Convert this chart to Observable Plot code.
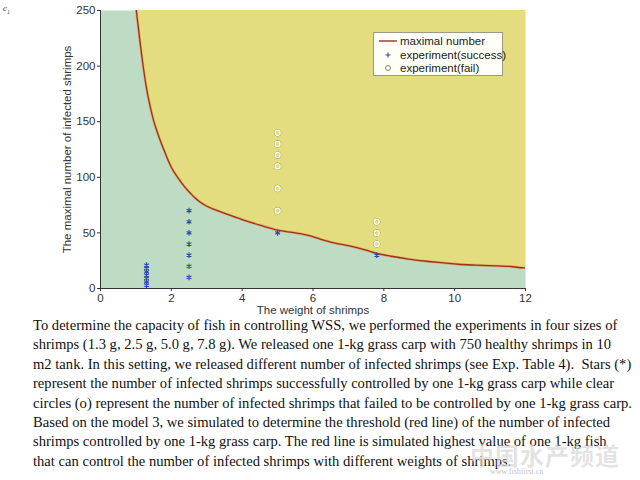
<!DOCTYPE html>
<html>
<head>
<meta charset="utf-8">
<script src="https://cdn.jsdelivr.net/npm/d3@7"></script>
<script src="https://cdn.jsdelivr.net/npm/@observablehq/plot@0.6"></script>
<style>
  html, body { margin: 0; padding: 0; background: #fff; }
  #wrap { position: relative; width: 640px; height: 480px; overflow: hidden; }
  #chart { position: absolute; left: 0; top: 0; }
  #legend { position: absolute; left: 373px; top: 32px; width: 130px; height: 44px;
    background: #fffff8; border: 1px solid #9a9a8a; font-family: "Liberation Sans", Arial, sans-serif;
    font-size: 11.5px; color: #222; box-sizing: border-box; }
  #legend .row { position: absolute; left: 0; height: 14px; line-height: 14px; }
  #legend .row span { position: absolute; left: 26px; white-space: nowrap; }
  #legend svg { position: absolute; left: 3px; top: 0; }
  #tag { position: absolute; left: 3px; top: 3px; font-family: "Liberation Serif", serif; font-style: italic; font-size: 9px; color: #444; }
  #caption { position: absolute; left: 33px; top: 316px; width: 607px; font-family: "Liberation Serif", "Times New Roman", serif;
    font-size: 14.6px; line-height: 19.4px; color: #111; white-space: pre; }
  #wm { position: absolute; left: 470px; top: 437px; font-family: "Noto Sans CJK SC", sans-serif; font-size: 24px; font-weight: bold;
    color: rgba(215,215,215,0.7); letter-spacing: 1px; }
  #wm2 { position: absolute; left: 490px; top: 467px; font-family: "Liberation Serif", serif; font-size: 8px; color: rgba(180,180,180,0.8); }
</style>
</head>
<body>
<div id="wrap">
  <div id="chart"></div>
  <div id="tag">c<sub style="font-size:6px">1</sub></div>
  <div id="legend"></div>
  <div id="caption"></div>
  <div id="wm">中国水产频道</div>
  <div id="wm2">www.fishfirst.cn</div>
</div>
<script>
// ---- data ----
const curveWeight = [1.0, 1.1, 1.2, 1.3, 1.4, 1.5, 1.6, 1.7, 1.8, 1.9, 2.0, 2.2, 2.4, 2.5, 2.65, 2.8, 3.0, 3.3, 3.6, 4.0, 4.5, 5.0, 5.5, 5.9, 6.2, 6.6, 7.0, 7.5, 7.8, 8.2, 8.7, 9.2, 9.7, 10.1, 10.6, 11.2, 11.6, 11.8, 12.0];
const curveMax    = [253, 226, 201, 180, 164, 151, 141, 132, 124, 116, 109, 99, 90.5, 87, 82, 78, 74, 70, 66.5, 62, 57, 52.5, 50, 47.5, 44.5, 41, 38.5, 34.5, 31.5, 29, 26.5, 24.5, 23, 21.8, 21, 20.3, 19.8, 18.9, 18.6];

const successWeight = [1.3, 1.3, 1.3, 1.3, 1.3, 1.3, 1.3, 2.5, 2.5, 2.5, 2.5, 2.5, 2.5, 2.5, 5.0, 7.8];
const successCount  = [3, 6, 9, 12, 15, 18, 21, 10, 20, 30, 40, 50, 60, 70, 50, 30];

const failWeight = [5.0, 5.0, 5.0, 5.0, 5.0, 5.0, 7.8, 7.8, 7.8];
const failCount  = [140, 130, 120, 110, 90, 70, 60, 50, 40];

const xTicks = [0, 2, 4, 6, 8, 10, 12];
const yTicks = [0, 50, 100, 150, 200, 250];

const legendLabels = ["maximal number", "experiment(success)", "experiment(fail)"];

const captionLines = [
  "To determine the capacity of fish in controlling WSS, we performed the experiments in four sizes of",
  "shrimps (1.3 g, 2.5 g, 5.0 g, 7.8 g). We released one 1-kg grass carp with 750 healthy shrimps in 10",
  "m2 tank. In this setting, we released different number of infected shrimps (see Exp. Table 4).  Stars (*)",
  "represent the number of infected shrimps successfully controlled by one 1-kg grass carp while clear",
  "circles (o) represent the number of infected shrimps that failed to be controlled by one 1-kg grass carp.",
  "Based on the model 3, we simulated to determine the threshold (red line) of the number of infected",
  "shrimps controlled by one 1-kg grass carp. The red line is simulated highest value of one 1-kg fish",
  "that can control the number of infected shrimps with different weights of shrimps."
];

// ---- build tables ----
const yMax = yTicks[yTicks.length - 1];
const curve = curveWeight.map((w, i) => ({w, m: curveMax[i]}));
const success = successWeight.map((w, i) => ({w, c: successCount[i]}));
const fail = failWeight.map((w, i) => ({w, c: failCount[i]}));

const green = "#bddcc3", yellow = "#e3dd80", red = "#a3301f", blue = "#2b4aa8";

const chart = Plot.plot({
  width: 640, height: 322,
  marginLeft: 100, marginRight: 115, marginTop: 10, marginBottom: 34,
  style: {fontFamily: "'Liberation Sans', Arial, sans-serif", fontSize: "11.5px", color: "#333", background: "transparent"},
  x: {domain: [0, 12]},
  y: {domain: [0, yMax]},
  marks: [
    Plot.frame({fill: green, stroke: null}),
    Plot.areaY(curve, {x: "w", y1: "m", y2: () => yMax, fill: yellow, clip: true, curve: "monotone-x"}),
    Plot.line(curve, {x: "w", y: "m", stroke: "#e08a40", strokeWidth: 2.6, strokeOpacity: 0.55, clip: true, curve: "monotone-x"}),
    Plot.line(curve, {x: "w", y: "m", stroke: red, strokeWidth: 1.3, clip: true, curve: "monotone-x"}),
    Plot.dot(success, {x: "w", y: "c", symbol: "asterisk", r: 2.6, stroke: blue, strokeWidth: 1.1}),
    Plot.dot(fail, {x: "w", y: "c", symbol: "circle", r: 3.3, stroke: "#6e6a40", strokeWidth: 0.6, fill: "none"}),
    Plot.dot(fail, {x: "w", y: "c", symbol: "circle", r: 2.6, stroke: "#fffff2", strokeWidth: 1.2, fill: "none"}),
    Plot.axisX({ticks: xTicks, tickSize: 3, tickPadding: 2, label: "The weight of shrimps", labelAnchor: "center", labelArrow: "none", labelOffset: 25}),
    Plot.axisY({ticks: yTicks, tickSize: 3, tickPadding: 2, label: "The maximal number of infected shrimps", labelAnchor: "center", labelArrow: "none", labelOffset: 38}),
    Plot.ruleX([0], {stroke: "#333"}),
    Plot.ruleY([0], {stroke: "#333"})
  ]
});
document.getElementById("chart").appendChild(chart);

// ---- legend ----
const legend = document.getElementById("legend");
const symbols = [
  '<svg width="22" height="14"><line x1="2" y1="7" x2="20" y2="7" stroke="' + red + '" stroke-width="1.4"/></svg>',
  '<svg width="22" height="14"><g stroke="' + blue + '" stroke-width="1"><line x1="11" y1="4.5" x2="11" y2="9.5"/><line x1="8.5" y1="7" x2="13.5" y2="7"/></g></svg>',
  '<svg width="22" height="14"><circle cx="11" cy="7" r="2.5" fill="none" stroke="#77725a" stroke-width="0.9"/></svg>'
];
legendLabels.forEach((lab, i) => {
  const row = document.createElement("div");
  row.className = "row";
  row.style.top = (1 + i * 13.7) + "px";
  row.innerHTML = symbols[i] + "<span>" + lab + "</span>";
  legend.appendChild(row);
});

// ---- caption ----
const cap = document.getElementById("caption");
captionLines.forEach(l => {
  const d = document.createElement("div");
  d.textContent = l;
  cap.appendChild(d);
});
</script>
</body>
</html>
